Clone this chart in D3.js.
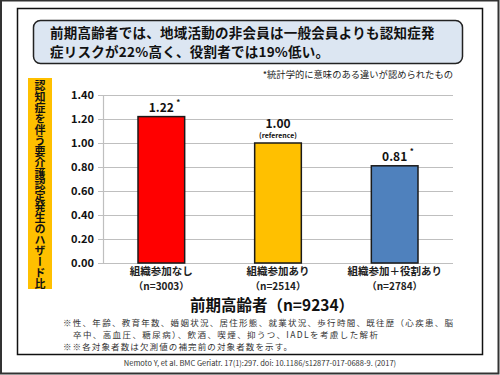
<!DOCTYPE html>
<html>
<head>
<meta charset="utf-8">
<script src="https://cdn.jsdelivr.net/npm/d3@7"></script>
<style>
  body { margin: 0; background: #fff; }
  svg text { font-family: "Noto Sans CJK JP", "Noto Sans", sans-serif; }
</style>
</head>
<body>
<svg id="chart" width="500" height="375"></svg>
<script>
// data
const categories = ["組織参加なし", "組織参加あり", "組織参加＋役割あり"];
const counts = ["(n=3003)", "(n=2514)", "(n=2784)"];
const hazard = [1.22, 1.00, 0.81];
const significant = [true, false, true];
const barColors = ["#ff0000", "#ffc000", "#4f81bd"];
const yTicks = [0, 0.2, 0.4, 0.6, 0.8, 1.0, 1.2, 1.4];

const titleLines = ["前期高齢者では、地域活動の非会員は一般会員よりも認知症発",
                    "症リスクが22%高く、役割者では19%低い。"];
const yLabel = "認知症を伴う要介護認定発生のハザード比";
const notes = ["※性、年齢、教育年数、婚姻状況、居住形態、就業状況、歩行時間、既往歴（心疾患、脳",
               "卒中、高血圧、糖尿病）、飲酒、喫煙、抑うつ、IADLを考慮した解析",
               "※※各対象者数は欠測値の補完前の対象者数を示す。"];
const noteX = [63, 73, 63];
const noteWidth = [390, 305, 229];

const svg = d3.select("#chart");

// outer frame and inner box
svg.append("rect").attr("x", 1).attr("y", 0.5).attr("width", 497.5).attr("height", 373)
   .attr("fill", "#fff").attr("stroke", "#333").attr("stroke-width", 2);
svg.append("rect").attr("x", 17.5).attr("y", 8.5).attr("width", 465).attr("height", 346)
   .attr("fill", "#fff").attr("stroke", "#111").attr("stroke-width", 1.5);

// title box
svg.append("rect").attr("x", 33.5).attr("y", 20.5).attr("width", 429).attr("height", 43)
   .attr("rx", 7).attr("fill", "#dce6f2").attr("stroke", "#222").attr("stroke-width", 1.5);
svg.selectAll(".title").data(titleLines).join("text")
   .attr("x", 50).attr("y", (d, i) => 37.5 + i * 19.6)
   .attr("font-size", 13.5).attr("font-weight", "bold").attr("fill", "#111")
   .attr("letter-spacing", 0.25)
   .text(d => d);

svg.append("text").attr("x", 453).attr("y", 78).attr("text-anchor", "end")
   .attr("font-size", 9.3).attr("fill", "#222").text("*統計学的に意味のある違いが認められたもの");

// y label box, vertical text
svg.append("rect").attr("x", 28).attr("y", 78).attr("width", 24).attr("height", 211)
   .attr("fill", "#ffc000");
svg.append("text")
   .attr("x", 40).attr("y", 80)
   .style("writing-mode", "vertical-rl")
   .attr("font-size", 11).attr("font-weight", "bold")
   .attr("fill", "#111").text(yLabel);

// scales
const x = d3.scaleBand().domain(categories).range([103, 453]).paddingInner(0.6).paddingOuter(0.3);
const y = d3.scaleLinear().domain([0, 1.4]).range([263, 95]);

// grid
svg.selectAll(".grid").data(yTicks).join("line")
   .attr("x1", 98).attr("x2", 453)
   .attr("y1", d => Math.round(y(d)) + 0.5).attr("y2", d => Math.round(y(d)) + 0.5)
   .attr("stroke", "#bfbfbf").attr("stroke-width", 1.2);
svg.append("line").attr("x1", 103.5).attr("x2", 103.5).attr("y1", 95).attr("y2", 263)
   .attr("stroke", "#bfbfbf").attr("stroke-width", 1.2);

const yAxis = svg.append("g").attr("transform", "translate(98,0)")
   .call(d3.axisLeft(y).tickValues(yTicks).tickFormat(d3.format(".2f")).tickSize(0).tickPadding(4));
yAxis.select(".domain").remove();
yAxis.selectAll("text").attr("font-size", 11).attr("font-weight", "bold").attr("fill", "#111")
   .attr("font-family", "\"Noto Sans CJK JP\", sans-serif");

// bars
svg.selectAll(".bar").data(hazard).join("rect")
   .attr("x", (d, i) => x(categories[i]))
   .attr("y", d => y(d))
   .attr("width", x.bandwidth())
   .attr("height", d => y(0) - y(d))
   .attr("fill", (d, i) => barColors[i])
   .attr("stroke", "#1a1a1a").attr("stroke-width", 1.5);

// value labels
const labelY = (d, i) => i === 1 ? y(d) - 15 : y(d) - 5;
svg.selectAll(".val").data(hazard).join("text")
   .attr("x", (d, i) => x(categories[i]) + x.bandwidth() / 2)
   .attr("y", labelY)
   .attr("text-anchor", "middle").attr("font-size", 12).attr("font-weight", "bold").attr("fill", "#111")
   .text(d => d3.format(".2f")(d));
svg.selectAll(".star").data(hazard.map((d, i) => ({ v: d, i })).filter(o => significant[o.i])).join("text")
   .attr("x", o => x(categories[o.i]) + x.bandwidth() / 2 + 15)
   .attr("y", o => y(o.v) - 12)
   .attr("font-size", 8).attr("font-weight", "bold").attr("fill", "#111").text("*");
svg.append("text")
   .attr("x", x(categories[1]) + x.bandwidth() / 2).attr("y", y(hazard[1]) - 5)
   .attr("text-anchor", "middle").attr("font-size", 7).attr("font-weight", "bold").attr("fill", "#111")
   .text("(reference)");

// category labels
svg.selectAll(".cat").data(categories).join("text")
   .attr("x", d => x(d) + x.bandwidth() / 2).attr("y", 275.3)
   .attr("text-anchor", "middle").attr("font-size", 10.5).attr("font-weight", "bold").attr("fill", "#222")
   .text(d => d);
svg.selectAll(".cnt").data(counts).join("text")
   .attr("x", (d, i) => x(categories[i]) + x.bandwidth() / 2).attr("y", 290)
   .attr("text-anchor", "middle").attr("font-size", 10).attr("font-weight", "bold").attr("fill", "#222")
   .text(d => d.replace("(", "（").replace(")", "）"));

svg.append("text").attr("x", 272).attr("y", 311).attr("text-anchor", "middle")
   .attr("font-size", 15.5).attr("font-weight", "bold").attr("fill", "#111")
   .text("前期高齢者（n=9234）");

// notes
svg.selectAll(".note").data(notes).join("text")
   .attr("x", (d, i) => noteX[i]).attr("y", (d, i) => 325.5 + i * 12.3)
   .attr("font-size", 8.5).attr("fill", "#333")
   .attr("textLength", (d, i) => noteWidth[i])
   .text(d => d);

svg.append("text").attr("x", 260).attr("y", 365.5).attr("text-anchor", "middle")
   .attr("font-size", 7.5).attr("fill", "#333")
   .text("Nemoto Y, et al. BMC Geriatr. 17(1):297. doi: 10.1186/s12877-017-0688-9. (2017)");
</script>
</body>
</html>
